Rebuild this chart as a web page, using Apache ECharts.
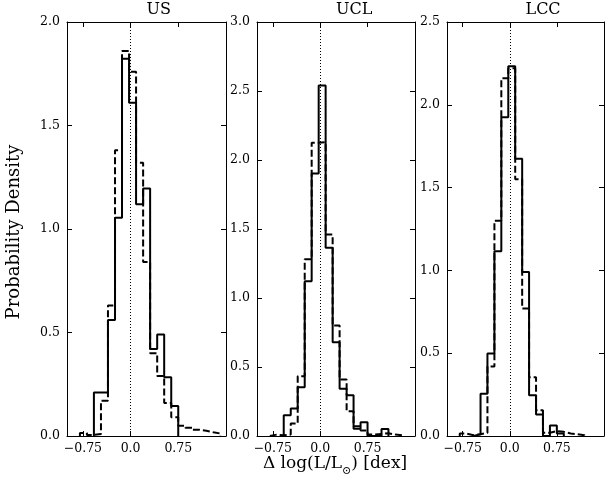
<!DOCTYPE html>
<html><head><meta charset="utf-8">
<script src="https://cdn.jsdelivr.net/npm/echarts@6/dist/echarts.min.js"></script>
<style>html,body{margin:0;padding:0;background:#fff}#c{width:616px;height:482px}</style>
</head><body><div id="c"></div>
<script>
// Common histogram bin edges (dex)
const binEdges = [-0.907, -0.797, -0.687, -0.577, -0.466, -0.356, -0.245, -0.135, -0.024, 0.086, 0.197,
  0.307, 0.418, 0.528, 0.639, 0.749, 0.860, 0.970, 1.080, 1.191, 1.301, 1.411];
const panelNames = ['US', 'UCL', 'LCC'];
// Probability density per bin (21 bins)
const usSolid   = [0, 0, 0, 0.21, 0.21, 0.56, 1.054, 1.822, 1.61, 1.12, 1.196, 0.42, 0.49, 0.284, 0.145, 0, 0, 0, 0, 0, 0];
const usDashed  = [0, 0.015, 0.005, 0.01, 0.17, 0.63, 1.38, 1.86, 1.76, 1.32, 0.84, 0.40, 0.29, 0.16, 0.09, 0.05, 0.04, 0.03, 0.025, 0.018, 0.012];
const uclSolid  = [0, 0, 0, 0.15, 0.199, 0.354, 1.122, 1.902, 2.54, 1.364, 0.68, 0.342, 0.296, 0.052, 0.10, 0, 0, 0.05, 0, 0, 0];
const uclDashed = [0, 0.01, 0.005, 0.01, 0.09, 0.433, 1.28, 2.125, 2.13, 1.46, 0.80, 0.41, 0.18, 0.07, 0.04, 0.01, 0.015, 0.02, 0.01, 0.005, 0];
const lccSolid  = [0, 0, 0, 0.01, 0.255, 0.498, 1.116, 1.925, 2.233, 1.674, 0.99, 0.246, 0.13, 0, 0.063, 0.015, 0, 0, 0, 0, 0];
const lccDashed = [0, 0.015, 0.005, 0.01, 0.02, 0.42, 1.30, 2.16, 2.22, 1.55, 0.77, 0.355, 0.155, 0.02, 0.03, 0.025, 0.015, 0.01, 0.005, 0, 0];
const solidSets = [usSolid, uclSolid, lccSolid];
const dashedSets = [usDashed, uclDashed, lccDashed];
const yMaxes = [2.0, 3.0, 2.5];
const xTickValues = [-0.75, 0, 0.75];
const xMin = -1.0, xMax = 1.5, yStep = 0.5;

function stepPoints(vals) {
  let a = 0; while (a < vals.length && !vals[a]) a++;
  let b = vals.length - 1; while (b >= 0 && !vals[b]) b--;
  const pts = [[binEdges[a], 0]];
  for (let i = a; i <= b; i++) { pts.push([binEdges[i], vals[i]]); pts.push([binEdges[i + 1], vals[i]]); }
  pts.push([binEdges[b + 1], 0]);
  return pts;
}
const FONT = 'DejaVu Serif';
const xFmt = v => v === 0 ? '0.0' : (v < 0 ? '\u2212' : '') + Math.abs(v).toFixed(2);
const gridBoxes = [
  {left: 67, top: 22, width: 159, height: 414},
  {left: 257, top: 22, width: 158, height: 414},
  {left: 447, top: 22, width: 157, height: 414}
];
const xAxes = [], yAxes = [], series = [], graphics = [];
const lineCol = '#000';
panelNames.forEach((name, i) => {
  const base = {gridIndex: i, type: 'value', min: xMin, max: xMax, splitLine: {show: false},
    axisLine: {show: true, onZero: false, lineStyle: {color: lineCol, width: 1}},
    axisTick: {show: true, inside: true, length: 5, customValues: xTickValues, lineStyle: {color: lineCol, width: 1}}};
  xAxes.push(Object.assign({}, base, {position: 'bottom',
    axisLabel: {show: true, customValues: xTickValues, formatter: xFmt, color: '#000', fontFamily: FONT, fontSize: 12.5, margin: 6}}));
  xAxes.push(Object.assign({}, base, {position: 'top', axisLabel: {show: false}}));
  const ybase = {gridIndex: i, type: 'value', min: 0, max: yMaxes[i], interval: yStep, splitLine: {show: false},
    axisLine: {show: true, onZero: false, lineStyle: {color: lineCol, width: 1}},
    axisTick: {show: true, inside: true, length: 5, lineStyle: {color: lineCol, width: 1}}};
  yAxes.push(Object.assign({}, ybase, {position: 'left',
    axisLabel: {show: true, formatter: v => v.toFixed(1), color: '#000', fontFamily: FONT, fontSize: 12.5, margin: 7}}));
  yAxes.push(Object.assign({}, ybase, {position: 'right', axisLabel: {show: false}}));
  series.push({type: 'line', xAxisIndex: 2 * i, yAxisIndex: 2 * i, data: stepPoints(dashedSets[i]),
    symbol: 'none', silent: true, z: 3,
    lineStyle: {color: '#000', width: 2, type: [7, 3]}});
  series.push({type: 'line', xAxisIndex: 2 * i, yAxisIndex: 2 * i, data: stepPoints(solidSets[i]),
    symbol: 'none', silent: true, z: 4,
    lineStyle: {color: '#000', width: 2},
    markLine: {symbol: 'none', silent: true, label: {show: false}, animation: false,
      lineStyle: {color: '#000', width: 1, type: [1, 2]}, data: [{xAxis: 0}]}});
  graphics.push({type: 'text', left: gridBoxes[i].left + gridBoxes[i].width / 2, top: 2,
    style: {text: name, font: '16px "' + FONT + '"', fill: '#000', textAlign: 'center'}});
});
graphics.push({type: 'text', x: 14, y: 232, rotation: Math.PI / 2,
  style: {text: 'Probability Density', font: '18px "' + FONT + '"', fill: '#000', textAlign: 'center', textVerticalAlign: 'middle'}});
graphics.push({type: 'text', x: 335, y: 466,
  style: {text: '{a|\u0394 log(L/L}{s|\u2299}{a|) [dex]}', textAlign: 'center', textVerticalAlign: 'middle',
    rich: {a: {font: '17px "' + FONT + '"', fill: '#000', verticalAlign: 'top', lineHeight: 22},
           s: {font: '11px "' + FONT + '"', fill: '#000', verticalAlign: 'bottom', lineHeight: 22}}}});
const chart = echarts.init(document.getElementById('c'), null, {renderer: 'canvas'});
chart.setOption({
  animation: false,
  grid: gridBoxes,
  xAxis: xAxes,
  yAxis: yAxes,
  series: series,
  graphic: graphics
});
</script></body></html>
